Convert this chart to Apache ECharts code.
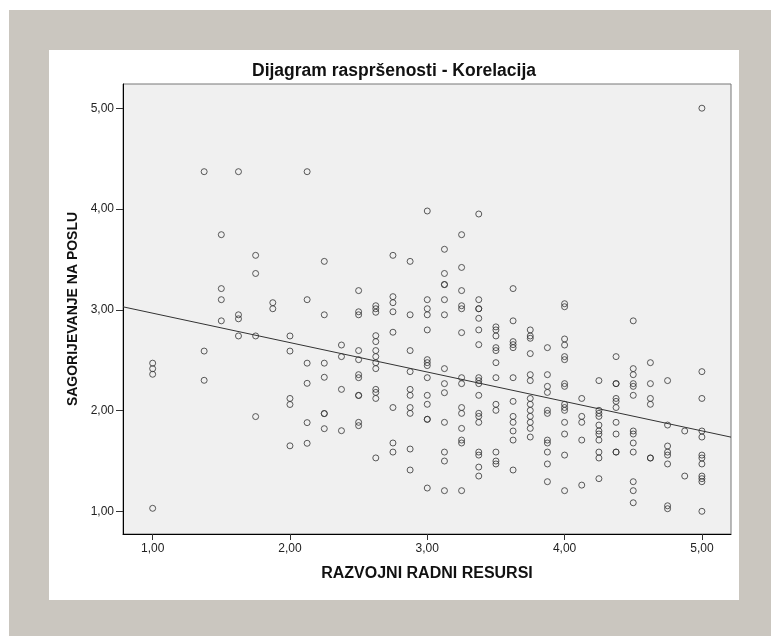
<!DOCTYPE html>
<html>
<head>
<meta charset="utf-8">
<script src="https://cdn.jsdelivr.net/npm/echarts@6/dist/echarts.min.js"></script>
<style>
  html, body { margin: 0; padding: 0; background: #fff; }
  #frame { position: absolute; left: 9px; top: 10px; width: 762px; height: 626px; background: #cac6bf; }
  #panel { position: absolute; left: 49px; top: 50px; width: 690px; height: 550px; background: #fff; }
  #main { position: absolute; left: 0; top: 0; width: 771px; height: 636px; }
</style>
</head>
<body>
<div id="frame"></div>
<div id="panel"></div>
<div id="main"></div>
<script>
// x levels (RAZVOJNI RADNI RESURSI) and the y values seen at each level
const xLevels = [1.0, 1.375, 1.5, 1.625, 1.75, 1.875, 2.0, 2.125, 2.25, 2.375, 2.5, 2.625,
  2.75, 2.875, 3.0, 3.125, 3.25, 3.375, 3.5, 3.625, 3.75, 3.875, 4.0, 4.125, 4.25,
  4.375, 4.5, 4.625, 4.75, 4.875, 5.0]

const yByLevel = [
  [2.47, 2.415, 2.36, 1.03],
  [4.37, 2.59, 2.30],
  [3.745, 3.21, 3.10, 2.89],
  [4.37, 2.95, 2.91, 2.74],
  [3.54, 3.36, 2.74, 1.94],
  [3.07, 3.01],
  [2.74, 2.59, 2.12, 2.06, 1.65],
  [4.37, 3.10, 2.47, 2.27, 1.88, 1.675],
  [3.48, 2.95, 2.47, 2.33, 1.97, 1.97, 1.82],
  [2.65, 2.535, 2.21, 1.80],
  [3.19, 2.98, 2.95, 2.595, 2.505, 2.356, 2.326, 2.15, 2.15, 1.883, 1.85],
  [3.04, 3.01, 2.975, 2.743, 2.684, 2.595, 2.535, 2.475, 2.416, 2.21, 2.18, 2.12, 1.53],
  [3.54, 3.13, 3.07, 2.98, 2.777, 2.03, 1.678, 1.588],
  [3.48, 2.95, 2.595, 2.386, 2.21, 2.151, 2.03, 1.972, 1.618, 1.41],
  [3.98, 3.10, 3.01, 2.95, 2.80, 2.505, 2.475, 2.446, 2.326, 2.151, 2.062, 1.913, 1.913, 1.231],
  [3.60, 3.36, 3.25, 3.25, 3.10, 2.95, 2.416, 2.267, 2.177, 1.883, 1.588, 1.499, 1.205],
  [3.745, 3.42, 3.19, 3.04, 3.01, 2.773, 2.326, 2.267, 2.03, 1.972, 1.823, 1.707, 1.678, 1.205],
  [3.95, 3.10, 3.01, 3.01, 2.915, 2.80, 2.654, 2.326, 2.297, 2.267, 2.151, 1.972, 1.942, 1.883, 1.588, 1.558, 1.439, 1.35],
  [2.83, 2.80, 2.74, 2.624, 2.595, 2.475, 2.326, 2.062, 2.002, 1.588, 1.499, 1.47],
  [3.21, 2.89, 2.684, 2.654, 2.624, 2.326, 2.091, 1.942, 1.883, 1.797, 1.707, 1.41],
  [2.80, 2.74, 2.717, 2.565, 2.356, 2.297, 2.12, 2.062, 2.002, 1.942, 1.883, 1.823, 1.737],
  [2.624, 2.356, 2.24, 2.18, 2.002, 1.972, 1.707, 1.678, 1.588, 1.47, 1.294],
  [3.06, 3.03, 2.71, 2.65, 2.535, 2.505, 2.267, 2.24, 2.062, 2.03, 2.002, 1.883, 1.767, 1.558, 1.205],
  [2.12, 1.942, 1.883, 1.707, 1.26],
  [2.297, 2.002, 1.972, 1.942, 1.856, 1.797, 1.767, 1.707, 1.588, 1.529, 1.324],
  [2.535, 2.267, 2.267, 2.12, 2.091, 2.03, 1.883, 1.767, 1.588, 1.588],
  [2.89, 2.416, 2.356, 2.267, 2.24, 2.151, 1.797, 1.767, 1.678, 1.588, 1.294, 1.205, 1.085],
  [2.475, 2.267, 2.12, 2.062, 1.529, 1.529],
  [2.297, 1.856, 1.648, 1.588, 1.558, 1.47, 1.055, 1.026],
  [1.797, 1.35],
  [5.0, 2.386, 2.12, 1.797, 1.737, 1.558, 1.529, 1.47, 1.35, 1.324, 1.294, 1.0]
]

// fit line
const fitIntercept = 3.258
const fitSlope = -0.292

const tickValues = [1, 2, 3, 4, 5]
const xRange = [0.784, 5.212]
const yRange = [0.775, 5.24]

const points = []
xLevels.forEach((x, i) => {
  yByLevel[i].forEach(y => points.push([x, y]))
})
const fitLine = xRange.map(x => [x, fitIntercept + fitSlope * x])

const fmt = v => v.toFixed(2).replace('.', ',')
const FONT = '"Liberation Sans", Arial, sans-serif'

const chart = echarts.init(document.getElementById('main'), null, { renderer: 'canvas' })
chart.setOption({
  animation: false,
  backgroundColor: 'transparent',
  title: {
    text: 'Dijagram raspršenosti - Korelacija',
    left: 252,
    top: 62,
    padding: 0,
    textStyle: { fontFamily: FONT, fontSize: 17.5, fontWeight: 'bold', color: '#111' }
  },
  grid: {
    left: 123, top: 84, right: 40, bottom: 102,
    show: true,
    backgroundColor: '#f0f0f0',
    borderColor: '#777',
    borderWidth: 1
  },
  xAxis: {
    type: 'value',
    min: xRange[0], max: xRange[1],
    name: 'RAZVOJNI RADNI RESURSI',
    nameLocation: 'middle',
    nameGap: 32,
    nameTextStyle: { fontFamily: FONT, fontSize: 16, fontWeight: 'bold', color: '#111' },
    splitLine: { show: false },
    axisLine: { lineStyle: { color: '#000', width: 1 } },
    axisTick: { length: 6, customValues: tickValues, lineStyle: { color: '#333' } },
    axisLabel: { customValues: tickValues, formatter: fmt, margin: 9, fontFamily: FONT, fontSize: 12, color: '#222' }
  },
  yAxis: {
    type: 'value',
    min: yRange[0], max: yRange[1],
    name: 'SAGORIJEVANJE NA POSLU',
    nameLocation: 'middle',
    nameGap: 38,
    nameTextStyle: { fontFamily: FONT, fontSize: 14, fontWeight: 'bold', color: '#111' },
    splitLine: { show: false },
    axisLine: { lineStyle: { color: '#000', width: 1 } },
    axisTick: { length: 7, customValues: tickValues, lineStyle: { color: '#333' } },
    axisLabel: { customValues: tickValues, formatter: fmt, margin: 9, fontFamily: FONT, fontSize: 12, color: '#222' }
  },
  series: [
    {
      type: 'scatter',
      data: points,
      symbol: 'circle',
      symbolSize: 6,
      itemStyle: { color: 'rgba(0,0,0,0)', borderColor: '#333', borderWidth: 1 },
      silent: true
    },
    {
      type: 'line',
      data: fitLine,
      showSymbol: false,
      silent: true,
      lineStyle: { color: '#333', width: 1 }
    }
  ]
})
</script>
</body>
</html>
